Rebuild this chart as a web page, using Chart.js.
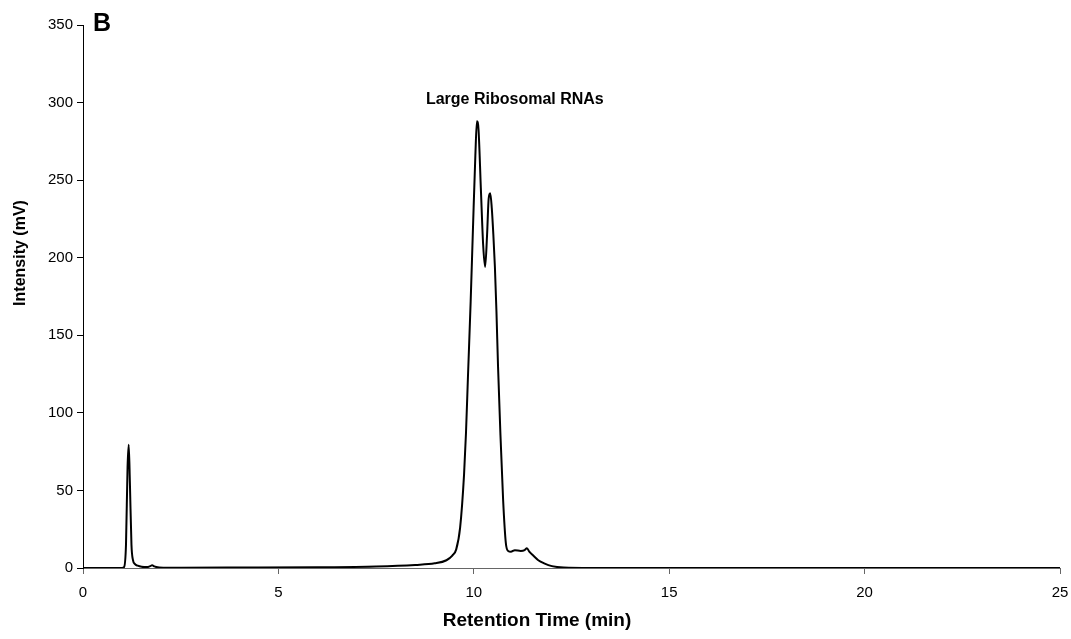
<!DOCTYPE html>
<html lang="en">
<head>
<meta charset="UTF-8">
<title>Retention Time Chromatogram</title>
<script src="https://cdn.jsdelivr.net/npm/chart.js"></script>
<style>
  html, body { margin: 0; padding: 0; background: #fff; }
  #wrap { width: 1071px; height: 639px; }
</style>
</head>
<body>
<div id="wrap"><canvas id="chrom"></canvas></div>
<script>
// retention time (min) and detector intensity (mV)
const retentionTime = [0, 1.0, 1.05, 1.10, 1.14, 1.17, 1.20, 1.24, 1.28, 1.33, 1.40, 1.50, 1.65, 1.72, 1.77, 1.82, 1.95, 2.5, 4, 6, 7.5, 8.5, 9.0, 9.3, 9.45, 9.55, 9.65, 9.75, 9.80, 9.85, 9.92, 9.98, 10.04, 10.08, 10.12, 10.18, 10.24, 10.29, 10.34, 10.38, 10.42, 10.46, 10.50, 10.54, 10.58, 10.62, 10.68, 10.75, 10.82, 10.88, 10.95, 11.05, 11.2, 11.3, 11.36, 11.42, 11.52, 11.65, 11.8, 12.0, 12.3, 13, 25];
const intensity = [0, 0, 0.5, 15, 65, 79.5, 55, 15, 5, 2.5, 1.5, 0.8, 0.6, 1.2, 1.8, 1, 0.4, 0.2, 0.3, 0.5, 1, 2, 3, 5, 8, 12, 26, 60, 87, 123, 172, 220, 266, 288, 283, 245, 208, 194, 215, 238, 241.5, 232, 215, 194, 165, 130, 87, 44, 16, 11, 10.5, 11.5, 11, 11.5, 12.8, 10.5, 8, 5, 3, 1.2, 0.3, 0, 0];

const xTicks = [0, 5, 10, 15, 20, 25];
const yTicks = [0, 50, 100, 150, 200, 250, 300, 350];

const points = retentionTime.map((t, i) => ({ x: t, y: intensity[i] }));

const FONT = 'Arial, "Liberation Sans", sans-serif';

// panel letter, peak label and the two axis titles
const labelsPlugin = {
  id: 'labels',
  afterDraw(chart) {
    const ctx = chart.ctx;
    const xs = chart.scales.x, ys = chart.scales.y;
    ctx.save();
    ctx.fillStyle = '#000';
    ctx.textBaseline = 'middle';

    ctx.font = 'bold 25px ' + FONT;
    ctx.textAlign = 'left';
    ctx.fillText('B', chart.chartArea.left + 10, chart.chartArea.top - 1);

    ctx.font = 'bold 16px ' + FONT;
    ctx.textAlign = 'center';
    ctx.fillText('Large Ribosomal RNAs', xs.getPixelForValue(11.05), ys.getPixelForValue(302));

    ctx.font = 'bold 19px ' + FONT;
    ctx.fillText('Retention Time (min)', 537, 621);

    ctx.font = 'bold 16px ' + FONT;
    ctx.translate(21, 253);
    ctx.rotate(-Math.PI / 2);
    ctx.fillText('Intensity (mV)', 0, 0);
    ctx.restore();
  }
};

const tickFont = { family: FONT, size: 15 };

new Chart(document.getElementById('chrom'), {
  type: 'scatter',
  data: {
    datasets: [{
      data: points,
      showLine: true,
      borderColor: '#000',
      borderWidth: 2,
      pointRadius: 0,
      cubicInterpolationMode: 'monotone',
      fill: false
    }]
  },
  options: {
    responsive: true,
    maintainAspectRatio: false,
    animation: false,
    layout: { padding: { left: 8, top: 25, right: 11, bottom: 0 } },
    plugins: { legend: { display: false }, tooltip: { enabled: false } },
    scales: {
      x: {
        type: 'linear',
        min: 0, max: 25,
        afterBuildTicks: s => { s.ticks = xTicks.map(v => ({ value: v })); },
        afterFit: s => { s.height = 71; s.paddingLeft = 0; s.paddingRight = 0; },
        grid: { drawOnChartArea: false, drawTicks: true, tickLength: 6, color: '#666' },
        border: { display: true, color: '#666', width: 1 },
        ticks: { color: '#000', font: tickFont, padding: 10, maxRotation: 0 }
      },
      y: {
        min: 0, max: 350,
        afterBuildTicks: s => { s.ticks = yTicks.map(v => ({ value: v })); },
        afterFit: s => { s.width = 75; s.paddingTop = 0; s.paddingBottom = 0; },
        grid: { drawOnChartArea: false, drawTicks: true, tickLength: 6, color: '#000' },
        border: { display: true, color: '#000', width: 1 },
        ticks: { color: '#000', font: tickFont, padding: 4 }
      }
    }
  },
  plugins: [labelsPlugin]
});
</script>
</body>
</html>
